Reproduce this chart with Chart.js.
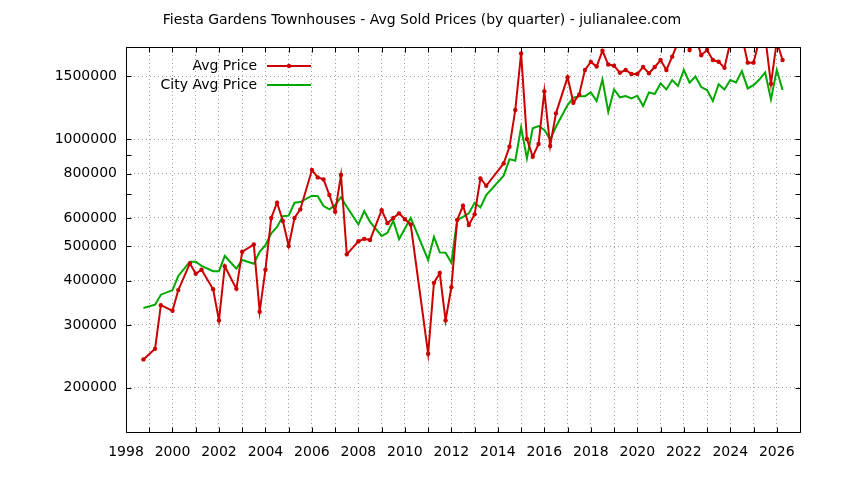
<!DOCTYPE html>
<html>
<head>
<meta charset="utf-8">
<script src="https://cdn.jsdelivr.net/npm/chart.js@4.4.1/dist/chart.umd.min.js"></script>
<style>
  html, body { margin: 0; padding: 0; background: #ffffff; }
  #wrap { width: 844px; height: 480px; }
</style>
</head>
<body>
<div id="wrap"><canvas id="c" width="844" height="480"></canvas></div>
<script>
const TITLE = 'Fiesta Gardens Townhouses - Avg Sold Prices (by quarter) - julianalee.com';
const SERIES_NAMES = ['Avg Price', 'City Avg Price'];

const quarters = [
  1998.75, 1999.25, 1999.5, 2000.0, 2000.25, 2000.75, 2001.0, 2001.25, 2001.75, 2002.0,
  2002.25, 2002.75, 2003.0, 2003.5, 2003.75, 2004.0, 2004.25, 2004.5, 2004.75, 2005.0,
  2005.25, 2005.5, 2006.0, 2006.25, 2006.5, 2006.75, 2007.0, 2007.25, 2007.5, 2008.0,
  2008.25, 2008.5, 2009.0, 2009.25, 2009.5, 2009.75, 2010.0, 2010.25, 2011.0, 2011.25,
  2011.5, 2011.75, 2012.0, 2012.25, 2012.5, 2012.75, 2013.0, 2013.25, 2013.5, 2014.25,
  2014.5, 2014.75, 2015.0, 2015.25, 2015.5, 2015.75, 2016.0, 2016.25, 2016.5, 2017.0,
  2017.25, 2017.5, 2017.75, 2018.0, 2018.25, 2018.5, 2018.75, 2019.0, 2019.25, 2019.5,
  2019.75, 2020.0, 2020.25, 2020.5, 2020.75, 2021.0, 2021.25, 2021.5, 2021.75, 2022.0,
  2022.25, 2022.5, 2022.75, 2023.0, 2023.25, 2023.5, 2023.75, 2024.0, 2024.25, 2024.5,
  2024.75, 2025.0, 2025.25, 2025.5, 2025.75, 2026.0, 2026.25
];

const avgPrice = [
  240000, 257000, 341000, 329000, 376000, 447000, 418000, 429000, 378000, 309000,
  439000, 379000, 482000, 505000, 327000, 429000, 600000, 662000, 588000, 500000,
  600000, 634000, 818000, 780000, 770000, 696000, 625000, 792000, 474000, 516000,
  524000, 520000, 631000, 580000, 600000, 618000, 595000, 575000, 249000, 394000,
  420000, 309000, 383000, 592000, 649000, 573000, 614000, 775000, 739000, 854000,
  951000, 1207000, 1741000, 1000000, 892000, 968000, 1362000, 956000, 1181000, 1493000,
  1265000, 1335000, 1565000, 1648000, 1599000, 1771000, 1620000, 1608000, 1536000, 1564000,
  1524000, 1524000, 1594000, 1531000, 1594000, 1668000, 1564000, 1705000, 1870000, 2000000,
  1780000, 1950000, 1720000, 1780000, 1668000, 1650000, 1586000, 1870000, 2000000, 1950000,
  1640000, 1640000, 1900000, 1950000, 1430000, 1880000, 1668000
];

const cityAvgPrice = [
  335000, 342000, 365000, 376000, 412000, 452000, 452000, 440000, 425000, 425000,
  469000, 432000, 457000, 446000, 482000, 503000, 543000, 566000, 607000, 609000,
  662000, 665000, 693000, 691000, 648000, 634000, 652000, 686000, 645000, 575000,
  627000, 585000, 534000, 545000, 589000, 523000, 560000, 600000, 457000, 531000,
  480000, 479000, 449000, 592000, 604000, 618000, 662000, 642000, 696000, 789000,
  878000, 869000, 1079000, 882000, 1072000, 1088000, 1060000, 998000, 1083000, 1246000,
  1307000, 1320000, 1320000, 1353000, 1279000, 1470000, 1193000, 1379000, 1310000, 1321000,
  1301000, 1324000, 1238000, 1353000, 1339000, 1434000, 1379000, 1465000, 1410000, 1564000,
  1440000, 1500000, 1400000, 1373000, 1279000, 1427000, 1379000, 1465000, 1443000, 1553000,
  1388000, 1418000, 1470000, 1539000, 1293000, 1564000, 1373000
];

const yTickValues = [200000, 300000, 400000, 500000, 600000, 700000, 800000, 900000, 1000000, 1500000];
const yLabeledTicks = [200000, 300000, 400000, 500000, 600000, 800000, 1000000, 1500000];
const xLabelYears = [1998, 2000, 2002, 2004, 2006, 2008, 2010, 2012, 2014, 2016, 2018, 2020, 2022, 2024, 2026];

const RED = '#cc0000';
const GREEN = '#00a800';
const FONT = 'DejaVu Sans';

const toXY = (ys) => quarters.map((q, i) => ({ x: q, y: ys[i] }));

const framePlugin = {
  id: 'frame',
  afterDraw(chart) {
    const { ctx, chartArea: a, scales } = chart;
    const xs = scales.x, ys = scales.y;
    ctx.save();
    ctx.strokeStyle = '#000';
    ctx.lineWidth = 1;
    ctx.beginPath();
    const L = Math.round(a.left) + 0.5, R = Math.round(a.right) + 0.5;
    const T = Math.round(a.top) + 0.5, B = Math.round(a.bottom) + 0.5;
    ctx.rect(L, T, R - L, B - T);
    const tl = 5;
    for (let yr = 1998; yr <= 2027; yr++) {
      const px = Math.round(xs.getPixelForValue(yr)) + 0.5;
      ctx.moveTo(px, B); ctx.lineTo(px, B - tl);
      ctx.moveTo(px, T); ctx.lineTo(px, T + tl);
    }
    for (const v of yTickValues) {
      const py = Math.round(ys.getPixelForValue(v)) + 0.5;
      ctx.moveTo(L, py); ctx.lineTo(L + tl, py);
      ctx.moveTo(R, py); ctx.lineTo(R - tl, py);
    }
    ctx.stroke();

    ctx.font = '14px "' + FONT + '"';
    ctx.textAlign = 'right';
    ctx.textBaseline = 'middle';
    const items = [
      { name: SERIES_NAMES[0], color: RED, y: 66, marker: true },
      { name: SERIES_NAMES[1], color: GREEN, y: 85, marker: false }
    ];
    for (const it of items) {
      ctx.fillStyle = '#000';
      ctx.fillText(it.name, 257, it.y);
      ctx.strokeStyle = it.color;
      ctx.lineWidth = 2;
      ctx.beginPath();
      ctx.moveTo(267, it.y);
      ctx.lineTo(311, it.y);
      ctx.stroke();
      if (it.marker) {
        ctx.fillStyle = it.color;
        ctx.beginPath();
        ctx.arc(289, it.y, 2.2, 0, Math.PI * 2);
        ctx.fill();
      }
    }
    ctx.restore();
  }
};

new Chart(document.getElementById('c'), {
  type: 'line',
  data: {
    datasets: [
      {
        label: SERIES_NAMES[0],
        data: toXY(avgPrice),
        borderColor: RED,
        backgroundColor: RED,
        borderWidth: 2,
        pointRadius: 2.2,
        pointHoverRadius: 2.2,
        pointBorderWidth: 0,
        pointBackgroundColor: RED,
        tension: 0,
        order: 1
      },
      {
        label: SERIES_NAMES[1],
        data: toXY(cityAvgPrice),
        borderColor: GREEN,
        backgroundColor: GREEN,
        borderWidth: 2,
        pointRadius: 0,
        tension: 0,
        order: 2
      }
    ]
  },
  options: {
    responsive: false,
    animation: false,
    devicePixelRatio: 1,
    layout: { padding: { left: 44, right: 44, top: 0, bottom: 0 } },
    plugins: {
      legend: { display: false },
      tooltip: { enabled: false },
      title: {
        display: true,
        text: TITLE,
        color: '#000',
        font: { family: FONT, size: 14, weight: 'normal' },
        padding: { top: 12, bottom: 18.2 }
      }
    },
    scales: {
      x: {
        type: 'linear',
        min: 1998,
        max: 2027,
        afterBuildTicks(scale) {
          const t = [];
          for (let yr = 1998; yr <= 2027; yr++) t.push({ value: yr });
          scale.ticks = t;
        },
        afterFit(scale) { scale.height = 48; },
        ticks: {
          autoSkip: false,
          maxRotation: 0,
          color: '#000',
          padding: 12,
          font: { family: FONT, size: 14 },
          callback(v) { return xLabelYears.includes(v) ? String(v) : ''; }
        },
        grid: { color: '#a0a0a0', lineWidth: 1, drawTicks: false },
        border: { display: false, dash: [1, 3] }
      },
      y: {
        type: 'logarithmic',
        min: 150000,
        max: 1815000,
        afterBuildTicks(scale) {
          scale.ticks = yTickValues.map(v => ({ value: v }));
        },
        afterFit(scale) { scale.width = 82; },
        ticks: {
          autoSkip: false,
          color: '#000',
          padding: 9,
          font: { family: FONT, size: 14 },
          callback(v) { return yLabeledTicks.includes(v) ? String(v) : ''; }
        },
        grid: {
          lineWidth: 1,
          drawTicks: false,
          color(ctx) {
            return ctx.tick && yLabeledTicks.includes(ctx.tick.value) ? '#a0a0a0' : 'rgba(0,0,0,0)';
          }
        },
        border: { display: false, dash: [1, 3] }
      }
    }
  },
  plugins: [framePlugin]
});
</script>
</body>
</html>
